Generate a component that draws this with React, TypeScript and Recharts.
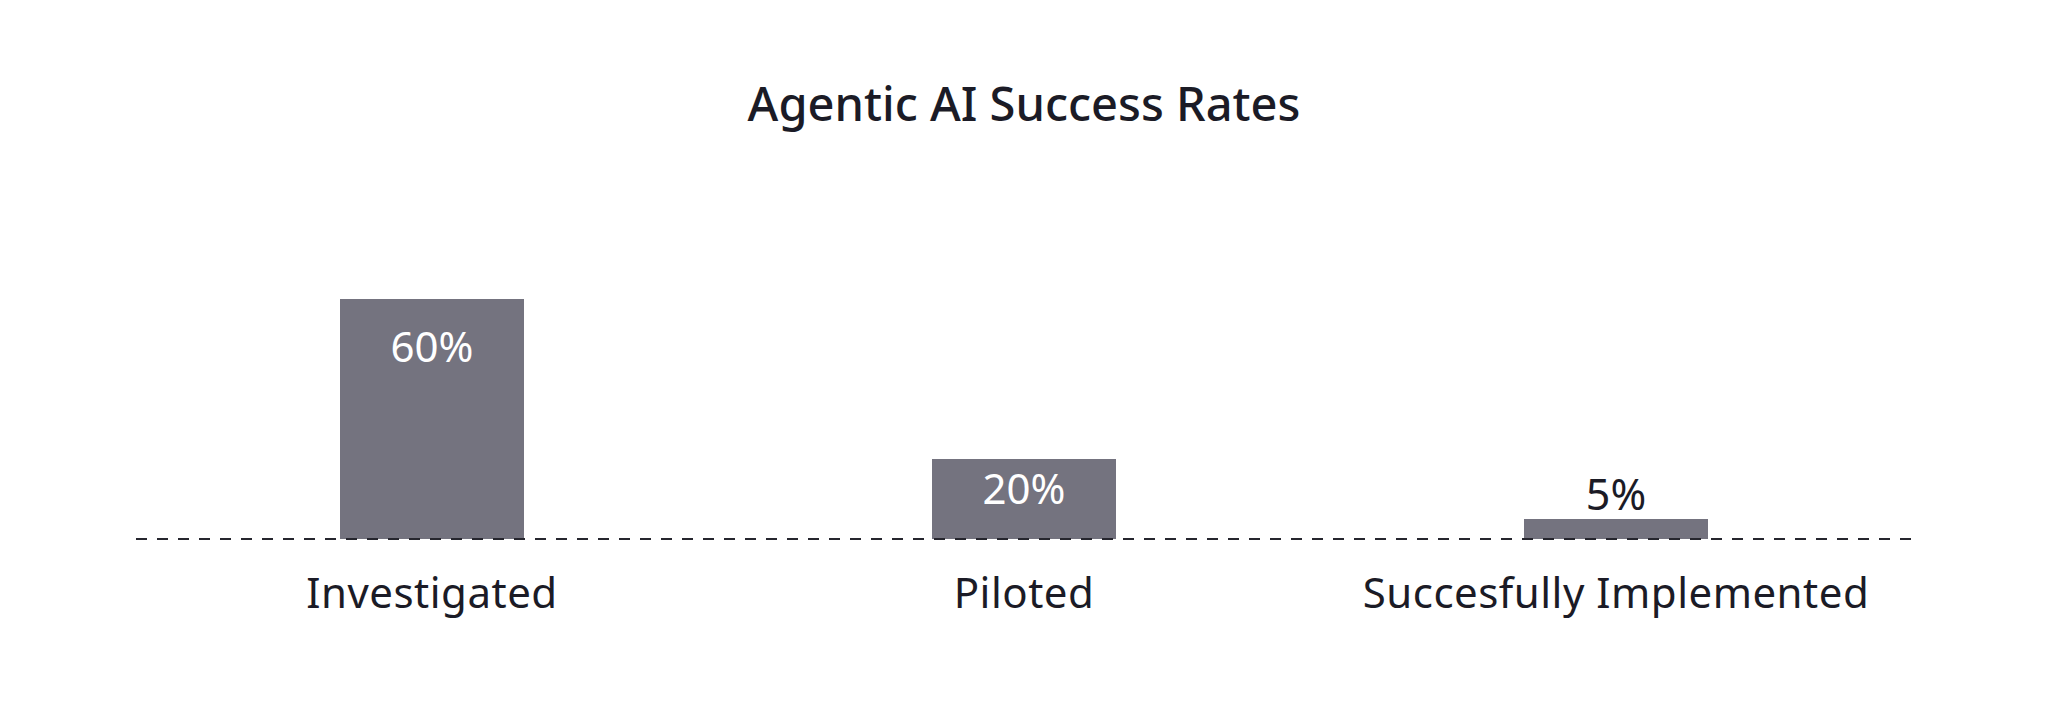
import React from 'react';
import { BarChart, Bar, XAxis, YAxis, LabelList } from 'recharts';

const categories = ['Investigated', 'Piloted', 'Succesfully Implemented'];
const rates = [60, 20, 5];
const valueLabels = ['60%', '20%', '5%'];
const yDomain: [number, number] = [0, 100];

const data = categories.map((name, i) => ({ name, rate: rates[i], label: valueLabels[i] }));

const FONT = '"Noto Sans", "Open Sans", sans-serif';
const TEXT = '#1b1b26';
const BAR = '#74737f';

const ValueLabel = (props: any) => {
  const { x, y, width, height, index } = props;
  const text = valueLabels[index];
  const cx = Number(x) + Number(width) / 2;
  const h = Number(height);
  if (h >= 60) {
    return (
      <text x={cx} y={Number(y) + Math.min(63, h - 35)} textAnchor="middle" fill="#ffffff"
        fontFamily={FONT} fontSize={42} fontWeight={400}>
        {text}
      </text>
    );
  }
  return (
    <text x={cx} y={Number(y) - 9} textAnchor="middle" fill={TEXT}
      fontFamily={FONT} fontSize={43} fontWeight={400}>
      {text}
    </text>
  );
};

const CategoryTick = (props: any) => {
  const { x, y, payload } = props;
  return (
    <text x={x} y={Number(y) + 69} textAnchor="middle" fill={TEXT}
      fontFamily={FONT} fontSize={42} fontWeight={400} letterSpacing={0.5}>
      {payload.value}
    </text>
  );
};

export default function App() {
  return (
    <div style={{ position: 'absolute', left: 0, top: 0, width: 2048, height: 718, background: '#ffffff' }}>
      <svg width={2048} height={718} style={{ position: 'absolute', left: 0, top: 0 }}>
        <text x={1024} y={121} textAnchor="middle" fill={TEXT} fontFamily={FONT} fontSize={47} fontWeight={500}>
          Agentic AI Success Rates
        </text>
      </svg>
      <div style={{ position: 'absolute', left: 0, top: 0 }}>
        <BarChart width={2048} height={718} data={data}
          margin={{ top: 139, right: 136, bottom: 119, left: 136 }}>
          <YAxis hide domain={yDomain} />
          <Bar dataKey="rate" fill={BAR} barSize={184} isAnimationActive={false}>
            <LabelList dataKey="label" content={ValueLabel} />
          </Bar>
          <XAxis dataKey="name" height={60} tickLine={false} tickSize={0} tickMargin={0}
            axisLine={{ stroke: '#26262e', strokeWidth: 1.8, strokeDasharray: '11 10' }}
            tick={CategoryTick} interval={0} />
        </BarChart>
      </div>
    </div>
  );
}
